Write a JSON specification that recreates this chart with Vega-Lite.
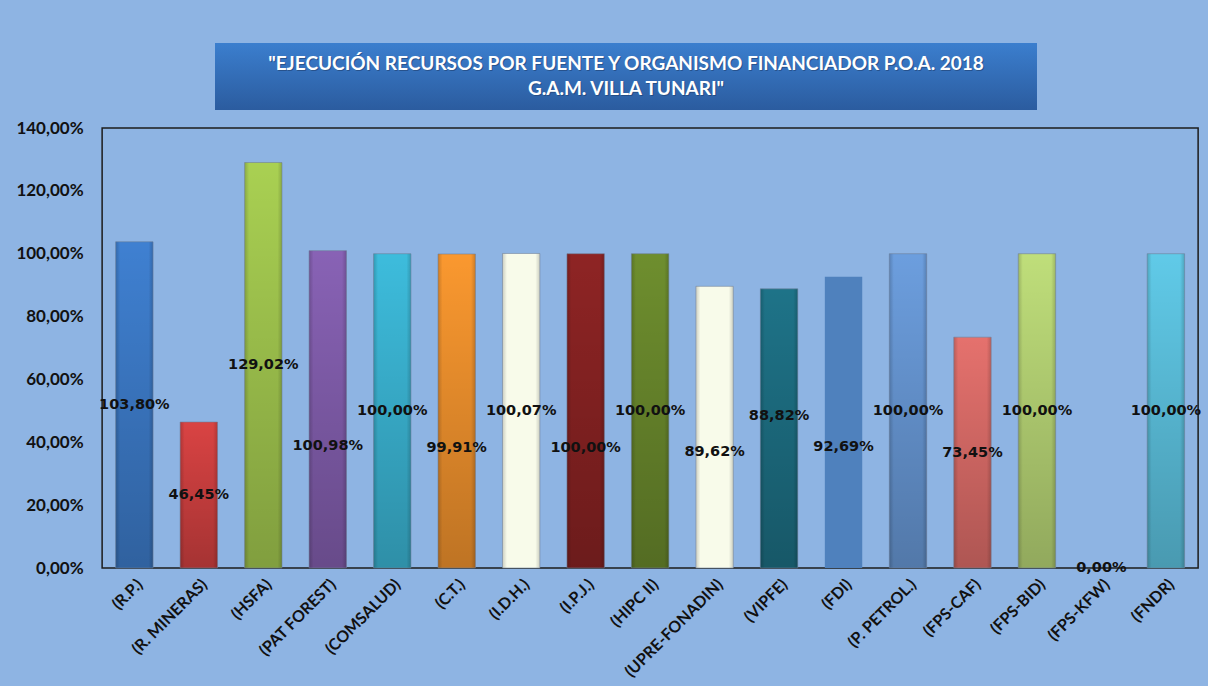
{
  "$schema": "https://vega.github.io/schema/vega-lite/v6.json",
  "background": "#8EB4E3",
  "padding": {"left": 5, "top": 43, "right": 15, "bottom": 15},
  "spacing": 8,
  "center": true,
  "config": {
    "locale": {"number": {"decimal": ",", "thousands": ".", "grouping": [3], "currency": ["", " €"]}},
    "font": "Lato",
    "axis": {"grid": false}
  },
  "datasets": {
    "titulo": [
      {"linea": 1, "texto": "\"EJECUCIÓN RECURSOS POR FUENTE Y ORGANISMO FINANCIADOR  P.O.A. 2018"},
      {"linea": 2, "texto": "G.A.M. VILLA TUNARI\""}
    ],
    "ejec": [
      {"fuente": "(R.P.)", "valor": 1.038},
      {"fuente": "(R. MINERAS)", "valor": 0.4645},
      {"fuente": "(HSFA)", "valor": 1.2902},
      {"fuente": "(PAT FOREST)", "valor": 1.0098},
      {"fuente": "(COMSALUD)", "valor": 1.0},
      {"fuente": "(C.T.)", "valor": 0.9991},
      {"fuente": "(I.D.H.)", "valor": 1.0007},
      {"fuente": "(I.P.J.)", "valor": 1.0},
      {"fuente": "(HIPC II)", "valor": 1.0},
      {"fuente": "(UPRE-FONADIN)", "valor": 0.8962},
      {"fuente": "(VIPFE)", "valor": 0.8882},
      {"fuente": "(FDI)", "valor": 0.9269},
      {"fuente": "(P. PETROL.)", "valor": 1.0},
      {"fuente": "(FPS-CAF)", "valor": 0.7345},
      {"fuente": "(FPS-BID)", "valor": 1.0},
      {"fuente": "(FPS-KFW)", "valor": 0.0},
      {"fuente": "(FNDR)", "valor": 1.0}
    ]
  },
  "vconcat": [
    {
      "width": 822,
      "height": 67,
      "data": {"name": "titulo"},
      "view": {"stroke": null},
      "encoding": {
        "y": {
          "field": "linea", "type": "ordinal",
          "scale": {"type": "point", "padding": 0.8},
          "axis": {"orient": "right", "title": null, "labels": false, "ticks": false, "domain": false, "minExtent": 52, "maxExtent": 52}
        }
      },
      "layer": [
        {
          "mark": {
            "type": "rect",
            "color": {
              "gradient": "linear", "x1": 0, "y1": 0, "x2": 0, "y2": 1,
              "stops": [
                {"offset": 0, "color": "#3B7ECE"},
                {"offset": 1, "color": "#2B5C9F"}
              ]
            }
          },
          "encoding": {"y": {"value": 0}, "y2": {"value": 67}}
        },
        {
          "mark": {"type": "text", "color": "#1F3F6E", "opacity": 0.6, "font": "Lato", "fontSize": 19, "fontWeight": "bold", "dx": 1, "dy": 1},
          "encoding": {"text": {"field": "texto"}}
        },
        {
          "mark": {"type": "text", "color": "white", "font": "Lato", "fontSize": 19, "fontWeight": "bold"},
          "encoding": {"text": {"field": "texto"}}
        }
      ]
    },
    {
      "width": 1096,
      "height": 440,
      "data": {"name": "ejec"},
      "view": {"stroke": "#1c1c1c", "strokeWidth": 1.5},
      "encoding": {
        "x": {
          "field": "fuente", "type": "nominal", "sort": null,
          "scale": {"paddingInner": 0.42, "paddingOuter": 0.21},
          "axis": {
            "title": null, "labelAngle": -45, "labelFont": "Lato", "labelFontSize": 16, "labelFontWeight": "bold",
            "labelColor": "#111111", "ticks": false, "domain": false, "labelPadding": 8, "labelLimit": 0,
            "minExtent": 110, "maxExtent": 110
          }
        },
        "y": {
          "field": "valor", "type": "quantitative",
          "scale": {"domain": [0, 1.4], "nice": false},
          "axis": {
            "title": null, "format": ".2%", "values": [0, 0.2, 0.4, 0.6, 0.8, 1.0, 1.2, 1.4],
            "labelFont": "Lato", "labelFontSize": 17, "labelFontWeight": "bold", "labelColor": "#111111",
            "ticks": false, "domain": false, "grid": false, "labelPadding": 19, "minExtent": 96, "maxExtent": 96
          }
        }
      },
      "layer": [
        {
          "mark": {"type": "bar"},
          "encoding": {
            "color": {
              "field": "fuente", "type": "nominal", "legend": null,
              "scale": {
                "domain": ["(R.P.)", "(R. MINERAS)", "(HSFA)", "(PAT FOREST)", "(COMSALUD)", "(C.T.)", "(I.D.H.)", "(I.P.J.)", "(HIPC II)", "(UPRE-FONADIN)", "(VIPFE)", "(FDI)", "(P. PETROL.)", "(FPS-CAF)", "(FPS-BID)", "(FPS-KFW)", "(FNDR)"],
                "range": ["#3F80D1", "#D94343", "#A9D052", "#8862B5", "#3DBCDC", "#FA982F", "#F8FBEA", "#8E2424", "#6E8E2E", "#F8FBEA", "#1E7388", "#4F81BD", "#6C9EDE", "#E5716D", "#BFDE7A", "#8EB4E3", "#60CAE8"]
              }
            }
          }
        },
        {
          "transform": [{"filter": {"not": {"field": "fuente", "oneOf": ["(I.D.H.)", "(UPRE-FONADIN)", "(FDI)", "(FPS-KFW)"]}}}],
          "mark": {
            "type": "bar",
            "color": {
              "gradient": "linear", "x1": 0, "y1": 0, "x2": 0, "y2": 1,
              "stops": [
                {"offset": 0, "color": "rgba(0,0,0,0)"},
                {"offset": 1, "color": "rgba(0,0,0,0.24)"}
              ]
            }
          }
        },
        {
          "transform": [{"filter": {"not": {"field": "fuente", "oneOf": ["(FDI)", "(FPS-KFW)"]}}}],
          "mark": {
            "type": "bar",
            "stroke": "#6E7E96", "strokeWidth": 0.8, "strokeOpacity": 0.7,
            "color": {
              "gradient": "linear", "x1": 0, "y1": 0, "x2": 1, "y2": 0,
              "stops": [
                {"offset": 0, "color": "rgba(0,0,0,0.18)"},
                {"offset": 0.12, "color": "rgba(0,0,0,0)"},
                {"offset": 0.88, "color": "rgba(0,0,0,0)"},
                {"offset": 1, "color": "rgba(0,0,0,0.18)"}
              ]
            }
          }
        },
        {
          "transform": [
            {"filter": {"not": {"field": "fuente", "oneOf": ["(PAT FOREST)", "(C.T.)", "(I.P.J.)", "(UPRE-FONADIN)", "(FDI)", "(VIPFE)"]}}},
            {"calculate": "datum.valor / 2", "as": "mitad"}
          ],
          "mark": {"type": "text", "font": "DejaVu Sans", "fontSize": 14.5, "fontWeight": "bold", "color": "#111111"},
          "encoding": {
            "y": {"field": "mitad", "type": "quantitative"},
            "text": {"field": "valor", "type": "quantitative", "format": ".2%"}
          }
        },
        {
          "transform": [
            {"filter": {"field": "fuente", "oneOf": ["(PAT FOREST)", "(C.T.)", "(I.P.J.)"]}},
            {"calculate": "datum.valor / 2", "as": "mitad"}
          ],
          "mark": {"type": "text", "font": "DejaVu Sans", "fontSize": 14.5, "fontWeight": "bold", "color": "#111111", "dy": 37},
          "encoding": {
            "y": {"field": "mitad", "type": "quantitative"},
            "text": {"field": "valor", "type": "quantitative", "format": ".2%"}
          }
        },
        {
          "transform": [
            {"filter": {"field": "fuente", "oneOf": ["(UPRE-FONADIN)", "(FDI)"]}},
            {"calculate": "datum.valor / 2", "as": "mitad"}
          ],
          "mark": {"type": "text", "font": "DejaVu Sans", "fontSize": 14.5, "fontWeight": "bold", "color": "#111111", "dy": 25},
          "encoding": {
            "y": {"field": "mitad", "type": "quantitative"},
            "text": {"field": "valor", "type": "quantitative", "format": ".2%"}
          }
        },
        {
          "transform": [
            {"filter": {"field": "fuente", "oneOf": ["(VIPFE)"]}},
            {"calculate": "datum.valor / 2", "as": "mitad"}
          ],
          "mark": {"type": "text", "font": "DejaVu Sans", "fontSize": 14.5, "fontWeight": "bold", "color": "#111111", "dy": -12},
          "encoding": {
            "y": {"field": "mitad", "type": "quantitative"},
            "text": {"field": "valor", "type": "quantitative", "format": ".2%"}
          }
        }
      ]
    }
  ]
}
